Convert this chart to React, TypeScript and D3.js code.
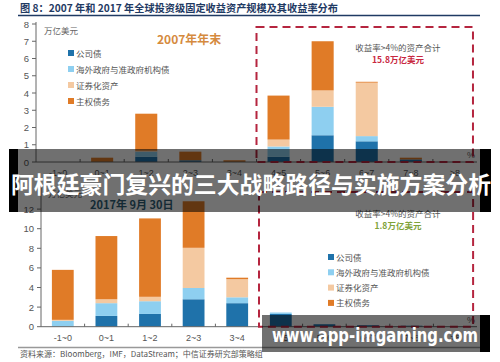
import React from "react";
import * as d3 from "d3";

// yield buckets (%)
const categories = ["-1~0", "0~1", "1~2", "2~3", "3~4", "4~5", "5~6", "6~7", "7~8", ">8"];
const seriesNames = ["公司债", "海外政府与准政府机构债", "证券化资产", "主权债务"];
const colors = ["#1f72aa", "#8ecff0", "#f4c9a1", "#e07b27"];

// end of 2007, trillion USD
const corp2007 = [0, 0, 0.3, 0.1, 0, 0.3, 1.55, 1.2, 0.15, 0];
const foreign2007 = [0, 0, 0.3, 0, 0, 0.6, 1.65, 0.3, 0, 0];
const sec2007 = [0, 0, 0.05, 0, 0, 0.4, 0.95, 3.1, 0, 0];
const sov2007 = [0, 0.25, 2.15, 0.5, 0.1, 2.55, 2.85, 0.05, 0.1, 0];

// 2017-09-30, trillion USD
const corp2017 = [0, 1.1, 1.3, 2.8, 2.4, 1.3, 0.25, 0.15, 0.1, 0];
const foreign2017 = [0.6, 1.3, 1.3, 1.15, 0.6, 0.15, 0, 0, 0, 0];
const sec2017 = [0.1, 0.4, 0.45, 4.1, 1.85, 0, 0, 0, 0, 0];
const sov2017 = [5.1, 6.45, 8.0, 4.75, 0.15, 0, 0, 0, 0, 0];

const yTicks2007 = [0, 1, 2, 3, 4, 5, 6, 7, 8];
const yTicks2017 = [0, 2, 4, 6, 8, 10, 12];

const keys = ["s0", "s1", "s2", "s3"];
const cjk = "'Noto Sans CJK SC', 'Noto Sans', sans-serif";
const latin = "'Liberation Sans', Arial, sans-serif";

const buildRows = (cols: number[][]) =>
  categories.map((c, i) => ({ cat: c, s0: cols[0][i], s1: cols[1][i], s2: cols[2][i], s3: cols[3][i] }));

type PanelProps = {
  rows: any[];
  left: number;
  right: number;
  bottom: number;
  top: number;
  yMax: number;
  ticks: number[];
  boxTop: number;
  note: string;
  noteColor: string;
  noteY: number;
  legendX: number;
  legendY: number;
  legendStep: number;
  unitX: number;
  unitY: number;
  catY: number;
};

const Panel = (p: PanelProps) => {
  const x = d3.scaleBand<string>().domain(categories).range([p.left, 477]).paddingInner(0.5).paddingOuter(0.25);
  const y = d3.scaleLinear().domain([0, p.yMax]).range([p.bottom, p.top]);
  const stacked = d3.stack<any>().keys(keys)(p.rows);
  const step = x.step();
  const boxLeft = (x("4~5") as number) - step * 0.25;
  const boxRight = (x(">8") as number) + x.bandwidth() + 7;
  const grey = "#666";

  return (
    <g>
      {stacked.map((layer, li) => (
        <g key={li} fill={colors[li]}>
          {layer.map((d, i) =>
            d[1] - d[0] > 0 ? (
              <rect key={i} x={x(categories[i])} width={x.bandwidth()} y={y(d[1])} height={y(d[0]) - y(d[1])} />
            ) : null
          )}
        </g>
      ))}
      {/* y axis */}
      <line x1={p.left} x2={p.left} y1={p.bottom} y2={y(p.yMax) - 2} stroke={grey} strokeWidth={1} />
      {p.ticks.map((t) => (
        <g key={t}>
          <line x1={p.left - 4} x2={p.left} y1={y(t)} y2={y(t)} stroke={grey} />
          <text x={p.left - 7} y={y(t) + 3.5} textAnchor="end" fontSize={9.5} fill="#555" fontFamily={latin}>
            {t}
          </text>
        </g>
      ))}
      {/* x axis */}
      <line x1={p.left} x2={477} y1={p.bottom} y2={p.bottom} stroke={grey} strokeWidth={1} />
      {categories.slice(0, -1).map((c) => {
        const bx = (x(c) as number) + x.bandwidth() + step * 0.25;
        return <line key={c} x1={bx} x2={bx} y1={p.bottom} y2={p.bottom - 3} stroke={grey} />;
      })}
      {categories.map((c) => (
        <text key={c} x={(x(c) as number) + x.bandwidth() / 2} y={p.catY} textAnchor="middle" fontSize={9} fill="#555" fontFamily={latin}>
          {c}
        </text>
      ))}
      <text x={467} y={p.bottom - 4} fontSize={9} fill="#666" fontFamily={latin}>%</text>
      <text x={p.unitX} y={p.unitY} fontSize={8.5} fill="#666" fontFamily={cjk}>万亿美元</text>
      {/* high-yield box */}
      <rect x={boxLeft} y={p.boxTop} width={boxRight - boxLeft} height={p.bottom - p.boxTop} fill="none" stroke="#b5253f" strokeWidth={2} strokeDasharray="8,5" />
      <text x={398} y={p.noteY} textAnchor="middle" fontSize={8.5} fill="#555" fontFamily={cjk}>收益率&gt;4%的资产合计</text>
      <text x={398} y={p.noteY + 11.5} textAnchor="middle" fontSize={8.5} fontWeight="bold" fill={p.noteColor} fontFamily={cjk}>{p.note}</text>
      {/* legend */}
      {seriesNames.map((s, i) => (
        <g key={s}>
          <rect x={p.legendX} y={p.legendY + i * p.legendStep - 3} width={6} height={6} fill={colors[i]} />
          <text x={p.legendX + 8} y={p.legendY + i * p.legendStep + 3.5} fontSize={8.5} fill="#555" fontFamily={cjk}>{s}</text>
        </g>
      ))}
    </g>
  );
};

export default function App() {
  const rows2007 = buildRows([corp2007, foreign2007, sec2007, sov2007]);
  const rows2017 = buildRows([corp2017, foreign2017, sec2017, sov2017]);

  return (
    <svg width={500} height={362} style={{ position: "absolute", left: 0, top: 0, background: "#fff" }}>
      <rect width={500} height={362} fill="#fff" />
      <text x={20} y={12} fontSize={10.5} fontWeight="bold" fill="#1f3a63" fontFamily={cjk} textLength={318} lengthAdjust="spacingAndGlyphs">
        图 8：2007 年和 2017 年全球投资级固定收益资产规模及其收益率分布
      </text>
      <line x1={18} x2={480} y1={15.5} y2={15.5} stroke="#1f3a63" strokeWidth={1.5} />

      <Panel rows={rows2007} left={36} right={477} bottom={162} top={24} yMax={8} ticks={yTicks2007}
        boxTop={27} note="15.8万亿美元" noteColor="#c8283f" noteY={51}
        legendX={68} legendY={53} legendStep={16} unitX={44} unitY={34} catY={176} />
      <text x={157} y={44} fontSize={12} fontWeight="bold" fill="#d58a3e" fontFamily={cjk}>2007年年末</text>

      <Panel rows={rows2017} left={41} right={477} bottom={326.7} top={189.5} yMax={14} ticks={yTicks2017}
        boxTop={192} note="1.8万亿美元" noteColor="#7fa33a" noteY={217}
        legendX={328} legendY={257} legendStep={15.3} unitX={48} unitY={197} catY={341} />
      <text x={90} y={209} fontSize={11} fontWeight="bold" fill="#2f5f77" fontFamily={cjk}>2017年 9月 30日</text>

      <line x1={18} x2={480} y1={347.5} y2={347.5} stroke="#999" strokeWidth={1.5} />
      <text x={20} y={357} fontSize={8} fill="#555" fontFamily={cjk}>资料来源：Bloomberg，IMF，DataStream；中信证券研究部策略组</text>

      {/* banner overlay */}
      <rect x={18} y={149} width={462} height={63} fill="#000" opacity={0.56} />
      <rect x={9} y={149} width={9} height={63} fill="#000" />
      <rect x={480} y={149} width={11} height={63} fill="#000" />
      <text x={11} y={193} fontSize={23} fontWeight="bold" fill="#fff" fontFamily={cjk} textLength={480} lengthAdjust="spacingAndGlyphs">
        阿根廷豪门复兴的三大战略路径与实施方案分析
      </text>

      {/* watermark */}
      <rect x={262} y={315} width={218} height={37} fill="#000" opacity={0.56} />
      <rect x={480} y={315} width={10} height={37} fill="#000" />
      <text x={272} y={342} fontSize={20} fontWeight="bold" fill="#fff" fontFamily="'DejaVu Sans', sans-serif" textLength={206} lengthAdjust="spacingAndGlyphs">
        www.app-imgaming.com
      </text>
    </svg>
  );
}
